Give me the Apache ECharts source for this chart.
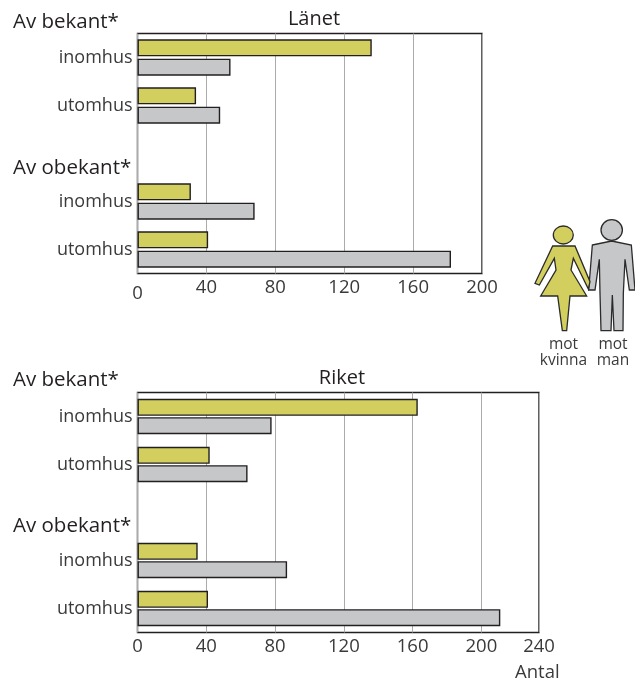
<!DOCTYPE html>
<html><head><meta charset="utf-8">
<script src="https://cdn.jsdelivr.net/npm/echarts@6/dist/echarts.min.js"></script>
<style>html,body{margin:0;padding:0;background:#fff}#c{width:635px;height:684px}</style></head>
<body><div id="c"></div>
<script>
const categories = ['inomhus', 'utomhus', '', 'inomhus', 'utomhus'];
const lanetKvinna = [136, 34, null, 31, 41];
const lanetMan = [54, 48, null, 68, 182];
const riketKvinna = [163, 42, null, 35, 41];
const riketMan = [78, 64, null, 87, 211];
const lanetTicks = ['0', '40', '80', '120', '160', '200'];
const riketTicks = ['0', '40', '80', '120', '160', '200', '240'];

const FONT = '"Open Sans"';
const INK = '#231f20';
const LABEL = '#3a3a3a';
const YELLOW = '#d2cf5f';
const GRAY = '#c6c7c9';
const FS = 18;
const TICK_FS = 18.5;
const HEAD_FS = 20.5;

function xAxis(gridIndex, max, ticks, zeroDrop) {
  return {
    type: 'value', gridIndex, min: 0, max, interval: 40,
    axisLine: {show: false}, axisTick: {show: false},
    splitLine: {show: true, lineStyle: {color: '#ababab', width: 1}},
    axisLabel: {
      margin: 5, showMaxLabel: true, showMinLabel: true, hideOverlap: false,
      fontFamily: FONT, fontSize: TICK_FS, color: LABEL,
      formatter: (v, i) => i === 0 ? '{z|0}' : ticks[i],
      rich: {z: {fontFamily: FONT, fontSize: TICK_FS, color: LABEL, padding: [zeroDrop, 0, 0, 0]}}
    }
  };
}
function yAxis(gridIndex) {
  return {
    type: 'category', gridIndex, inverse: true, data: categories,
    axisLine: {show: false}, axisTick: {show: false},
    axisLabel: {margin: 5, fontFamily: FONT, fontSize: FS, color: LABEL, interval: 0}
  };
}
function bars(name, data, color, idx, gap) {
  return {
    name, type: 'bar', xAxisIndex: idx, yAxisIndex: idx, data,
    barWidth: 17, barGap: gap, silent: true,
    itemStyle: {color, borderColor: INK, borderWidth: 1.4}
  };
}
function txt(text, x, y, extra) {
  return {type: 'text', x, y, silent: true, z: 10, style: Object.assign({
    text, fontFamily: FONT, fontSize: HEAD_FS, fill: INK, textAlign: 'left', textVerticalAlign: 'middle'
  }, extra || {})};
}
// Icon outlines, in zoomed-crop units
const OX = 530, OY = 215, S = 3;
const pts = a => a.map(p => [OX + p[0] / S, OY + p[1] / S]);
const manOutline = [[187,90],[245,78],[304,90],[315,225],[298,225],[285,133],[280,235],[279,347],[252,347],[247,240],[243,347],[213,347],[210,235],[208,133],[195,225],[176,225]];
const womanOutline = [[68,93],[135,93],[180,200],[175,222],[130,130],[123,165],[170,243],[120,243],[110,347],[97,347],[83,243],[32,243],[78,165],[73,130],[28,210],[15,205]];
const iconStyle = c => ({fill: c, stroke: '#2b2b2b', lineWidth: 1.3, lineJoin: 'miter'});
const small = {fontSize: 15.5, textAlign: 'center', fill: LABEL};

const chart = echarts.init(document.getElementById('c'), null, {renderer: 'canvas'});
chart.setOption({
  animation: false,
  backgroundColor: '#fff',
  title: [
    {text: 'Länet', left: 309, top: 4, textAlign: 'center', textStyle: {fontFamily: FONT, fontSize: 20, fontWeight: 'normal', color: INK}},
    {text: 'Riket', left: 337, top: 363, textAlign: 'center', textStyle: {fontFamily: FONT, fontSize: 20, fontWeight: 'normal', color: INK}}
  ],
  grid: [
    {left: 137.5, top: 33.5, width: 344.5, height: 240, show: true, borderColor: INK, borderWidth: 1.4, backgroundColor: '#fff'},
    {left: 137.5, top: 392.5, width: 401.5, height: 240, show: true, borderColor: INK, borderWidth: 1.4, backgroundColor: '#fff'}
  ],
  xAxis: [xAxis(0, 200, lanetTicks, 6), xAxis(1, 233.5, riketTicks, 0)],
  yAxis: [yAxis(0), yAxis(1)],
  series: [
    bars('mot kvinna', lanetKvinna, YELLOW, 0, '14%'),
    bars('mot man', lanetMan, GRAY, 0, '14%'),
    bars('mot kvinna', riketKvinna, YELLOW, 1, '8%'),
    bars('mot man', riketMan, GRAY, 1, '8%')
  ],
  graphic: [
    txt('Av bekant*', 13, 22),
    txt('Av obekant*', 13, 168),
    txt('Av bekant*', 13, 380),
    txt('Av obekant*', 13, 526),
    txt('Antal', 515, 673, {fontSize: 18.5, fill: LABEL}),
    {type: 'polygon', silent: true, z: 5, shape: {points: pts(manOutline)}, style: iconStyle(GRAY)},
    {type: 'ellipse', silent: true, z: 5, shape: {cx: 611.7, cy: 230, rx: 10.7, ry: 10.3}, style: iconStyle(GRAY)},
    {type: 'polygon', silent: true, z: 6, shape: {points: pts(womanOutline)}, style: iconStyle(YELLOW)},
    {type: 'ellipse', silent: true, z: 6, shape: {cx: 563.3, cy: 235, rx: 10, ry: 9}, style: iconStyle(YELLOW)},
    txt('mot', 563.5, 345, small),
    txt('kvinna', 563.5, 361, small),
    txt('mot', 613, 345, small),
    txt('man', 613, 361, small)
  ]
});
</script></body></html>
